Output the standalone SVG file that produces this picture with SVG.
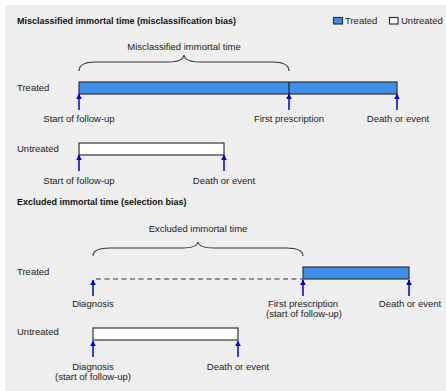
<svg xmlns="http://www.w3.org/2000/svg" width="446" height="391" viewBox="0 0 446 391">
<defs>
<style>
text{font-family:"Liberation Sans",Arial,sans-serif;font-size:9.5px;fill:#222}
.t{font-weight:bold;font-size:9px;fill:#111}
.m{text-anchor:middle}
.bar{stroke:#333;stroke-width:1.2}
.tr{fill:#3f8fe8}
.un{fill:#ffffff}
.arr{stroke:#0000d8;stroke-width:1.5;fill:none}
.br{stroke:#333;stroke-width:1.1;fill:none}
</style>
<marker id="ah" viewBox="0 0 10 10" refX="9" refY="5" markerWidth="6" markerHeight="7" markerUnits="userSpaceOnUse" orient="auto">
<path d="M0,0 L10,5 L0,10 z" fill="#0000d8"/>
</marker>
</defs>
<rect x="5" y="5" width="441" height="386" fill="#efefef"/>

<g id="legend">
<rect x="333.5" y="17.5" width="9" height="6.5" class="bar tr" stroke-width="1"/>
<text x="345" y="24">Treated</text>
<rect x="389.5" y="17.5" width="8.5" height="6.5" class="bar un" stroke-width="1"/>
<text x="401" y="24">Untreated</text>
</g>

<g id="section1">
<text class="t" x="17" y="24">Misclassified immortal time (misclassification bias)</text>
<g id="brace1">
<path class="br" d="M79,71 Q79,62 96,62 L168,62 Q183,62 184,55 Q185,62 200,62 L272,62 Q289,62 289,71"/>
<text class="m" x="184" y="50">Misclassified immortal time</text>
</g>
<g id="treated1">
<text x="17" y="91">Treated</text>
<rect class="bar tr" x="79" y="82" width="318" height="12"/>
<line x1="289" y1="82" x2="289" y2="94" stroke="#222" stroke-width="1.2"/>
</g>
<g id="untreated1">
<text x="17" y="152">Untreated</text>
<rect class="bar un" x="79" y="143" width="145" height="12"/>
</g>
<g id="labels1">
<text class="m" x="79" y="122">Start of follow-up</text>
<text class="m" x="289" y="122">First prescription</text>
<text class="m" x="398" y="122">Death or event</text>
<text class="m" x="79" y="184">Start of follow-up</text>
<text class="m" x="224" y="184">Death or event</text>
</g>
</g>

<g id="section2">
<text class="t" x="17" y="205">Excluded immortal time (selection bias)</text>
<g id="brace2">
<path class="br" d="M93,256 Q93,248 110,248 L182,248 Q197,248 198,242 Q199,248 214,248 L286,248 Q303,248 303,256"/>
<text class="m" x="198" y="232">Excluded immortal time</text>
</g>
<g id="treated2">
<text x="17" y="275">Treated</text>
<rect class="bar tr" x="303" y="267" width="106" height="12"/>
</g>
<g id="untreated2">
<text x="17" y="335">Untreated</text>
<rect class="bar un" x="93" y="328" width="145" height="12"/>
</g>
<g id="labels2">
<text class="m" x="93" y="307">Diagnosis</text>
<text class="m" x="303" y="307">First prescription</text>
<text class="m" x="304" y="317">(start of follow-up)</text>
<text class="m" x="410" y="307">Death or event</text>
<text class="m" x="93" y="370">Diagnosis</text>
<text class="m" x="93" y="380">(start of follow-up)</text>
<text class="m" x="238" y="370">Death or event</text>
</g>
</g>

<g id="connectors">
<line x1="96" y1="279" x2="303" y2="279" stroke="#333" stroke-width="1.2" stroke-dasharray="5,3.5"/>
<line class="arr" x1="79" y1="110" x2="79" y2="94" marker-end="url(#ah)"/>
<line class="arr" x1="289" y1="110" x2="289" y2="94" marker-end="url(#ah)"/>
<line class="arr" x1="397" y1="110" x2="397" y2="94" marker-end="url(#ah)"/>
<line class="arr" x1="79" y1="171" x2="79" y2="155" marker-end="url(#ah)"/>
<line class="arr" x1="224" y1="171" x2="224" y2="155" marker-end="url(#ah)"/>
<line class="arr" x1="93" y1="296" x2="93" y2="280" marker-end="url(#ah)"/>
<line class="arr" x1="303" y1="296" x2="303" y2="280" marker-end="url(#ah)"/>
<line class="arr" x1="409" y1="296" x2="409" y2="280" marker-end="url(#ah)"/>
<line class="arr" x1="93" y1="357" x2="93" y2="341" marker-end="url(#ah)"/>
<line class="arr" x1="238" y1="357" x2="238" y2="341" marker-end="url(#ah)"/>
</g>
</svg>
